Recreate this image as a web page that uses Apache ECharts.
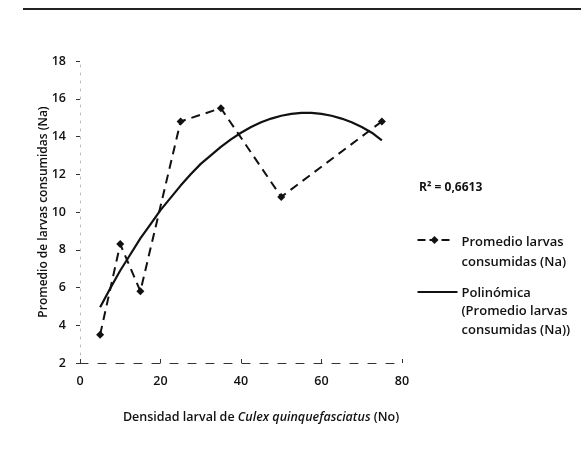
<!DOCTYPE html>
<html>
<head>
<meta charset="utf-8">
<script src="https://cdn.jsdelivr.net/npm/echarts@6/dist/echarts.min.js"></script>
<style>
  html, body { margin: 0; padding: 0; background: #fff; }
  #chart { width: 581px; height: 455px; }
</style>
</head>
<body>
<div id="chart"></div>
<script>
// Larval density (No) and mean larvae consumed (Na)
const density = [5, 10, 15, 25, 35, 50, 75];
const consumed = [3.5, 8.3, 5.8, 14.8, 15.5, 10.8, 14.8];

// Second-order polynomial trend, sampled along the density axis
const trendX = [5, 7.5, 10, 12.5, 15, 17.5, 20, 22.5, 25, 27.5, 30, 32.5, 35, 37.5, 40,
                42.5, 45, 47.5, 50, 52.5, 55, 57.5, 60, 62.5, 65, 67.5, 70, 72.5, 75];
const trendY = [4.95, 5.95, 6.9, 7.75, 8.6, 9.35, 10.1, 10.75, 11.4, 12.0, 12.55, 13.0, 13.45, 13.85, 14.2,
                14.5, 14.75, 14.95, 15.1, 15.2, 15.25, 15.25, 15.2, 15.1, 14.95, 14.75, 14.5, 14.2, 13.8];

const xTicks = [0, 20, 40, 60, 80];
const yTicks = [2, 4, 6, 8, 10, 12, 14, 16, 18];
const r2Label = 'R² = 0,6613';

const seriesNames = ['Promedio larvas consumidas (Na)', 'Polinómica (Promedio larvas consumidas (Na))'];
const legendLines = ['Promedio larvas\nconsumidas (Na)', 'Polinómica\n(Promedio larvas\nconsumidas (Na))'];

const FONT = 'Open Sans';
const ink = '#111';
const legendFont = '600 13px "' + FONT + '"';

const chart = echarts.init(document.getElementById('chart'), null, { renderer: 'canvas' });

chart.setOption({
  backgroundColor: '#fff',
  animation: false,
  textStyle: { fontFamily: FONT, color: ink },
  grid: { left: 80, right: 179, top: 61, bottom: 92 },
  xAxis: {
    type: 'value',
    min: xTicks[0],
    max: xTicks[xTicks.length - 1],
    interval: 20,
    name: '{n|Densidad larval de }{i|Culex quinquefasciatus}{n| (No)}',
    nameLocation: 'middle',
    nameGap: 48,
    nameMoveOverlap: false,
    nameTextStyle: {
      padding: [0, 0, 0, 40],
      rich: {
        n: { fontFamily: FONT, fontSize: 12.5, fontWeight: 600, color: ink },
        i: { fontFamily: FONT, fontSize: 12.5, fontWeight: 600, fontStyle: 'italic', color: ink }
      }
    },
    splitLine: { show: false },
    axisLine: { show: true, lineStyle: { color: '#333', width: 1.2, type: [8, 10] } },
    axisTick: { show: true, inside: true, length: 4, lineStyle: { color: '#333' } },
    axisLabel: { fontFamily: FONT, fontSize: 12.5, fontWeight: 600, color: ink, margin: 12 }
  },
  yAxis: {
    type: 'value',
    min: yTicks[0],
    max: yTicks[yTicks.length - 1],
    interval: 2,
    name: 'Promedio de larvas consumidas (Na)',
    nameLocation: 'middle',
    nameGap: 30,
    nameMoveOverlap: false,
    nameTextStyle: { fontFamily: FONT, fontSize: 12, fontWeight: 600, color: ink },
    splitLine: { show: false },
    axisLine: { show: true, lineStyle: { color: '#bbb', width: 1, type: [2, 6] } },
    axisTick: { show: true, length: 4, lineStyle: { color: '#333' } },
    axisLabel: { fontFamily: FONT, fontSize: 12.5, fontWeight: 600, color: ink, margin: 14 }
  },
  legend: { show: false },
  graphic: [
    // rule across the top of the figure
    {
      type: 'line',
      shape: { x1: 23, y1: 9, x2: 581, y2: 9 },
      style: { stroke: '#222', lineWidth: 2 }
    },
    {
      type: 'text',
      left: 419,
      top: 182,
      style: { text: r2Label, font: '700 12px "' + FONT + '"', fill: ink }
    },
    // legend: observed means (dashed with diamond)
    {
      type: 'group',
      left: 415,
      top: 232,
      children: [
        {
          type: 'line',
          shape: { x1: 0, y1: 8, x2: 34, y2: 8 },
          style: { stroke: ink, lineWidth: 2, lineDash: [8, 4] }
        },
        {
          type: 'polygon',
          shape: { points: [[17, 4], [21, 8], [17, 12], [13, 8]] },
          style: { fill: ink }
        },
        {
          type: 'text',
          x: 44,
          y: 0,
          style: { text: legendLines[0], font: legendFont, fill: ink, lineHeight: 20 }
        }
      ]
    },
    // legend: polynomial trend (solid)
    {
      type: 'group',
      left: 415,
      top: 284,
      children: [
        {
          type: 'line',
          shape: { x1: 0, y1: 8, x2: 40, y2: 8 },
          style: { stroke: ink, lineWidth: 2.2 }
        },
        {
          type: 'text',
          x: 44,
          y: 0,
          style: { text: legendLines[1], font: legendFont, fill: ink, lineHeight: 18.5 }
        }
      ]
    }
  ],
  series: [
    {
      name: seriesNames[0],
      type: 'line',
      data: density.map((d, i) => [d, consumed[i]]),
      symbol: 'diamond',
      symbolSize: 8,
      itemStyle: { color: '#111' },
      lineStyle: { color: '#111', width: 2, type: [9, 6] },
      z: 3
    },
    {
      name: seriesNames[1],
      type: 'line',
      data: trendX.map((d, i) => [d, trendY[i]]),
      smooth: false,
      showSymbol: false,
      symbol: 'none',
      itemStyle: { color: '#111' },
      lineStyle: { color: '#111', width: 2.2, join: 'round' },
      z: 2
    }
  ]
});
</script>
</body>
</html>
